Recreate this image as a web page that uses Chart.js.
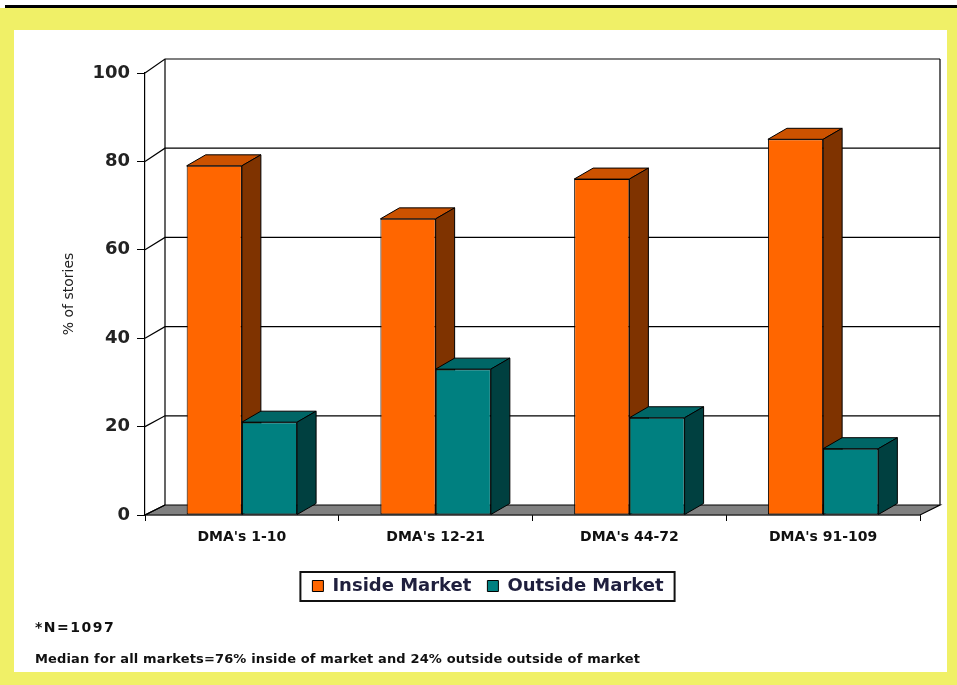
<!DOCTYPE html>
<html>
<head>
<meta charset="utf-8">
<title>Inside vs Outside Market Stories</title>
<script src="https://cdn.jsdelivr.net/npm/chart.js@4"></script>
<style>
  html, body { margin: 0; padding: 0; background: #fff; }
  body { width: 957px; height: 685px; position: relative; overflow: hidden; font-family: "DejaVu Sans", sans-serif; }
  .rule { position: absolute; left: 5px; right: 0; top: 5px; height: 3px; background: #000; }
  .frame { position: absolute; left: 0; top: 8px; width: 957px; height: 677px; background: #f0f067; }
  .panel { position: absolute; left: 14px; top: 30px; width: 933px; height: 642px; background: #fff; }
  .panel canvas { position: absolute; left: 0; top: 0; }
  .note { position: absolute; left: 21px; color: #111; font-weight: bold; white-space: nowrap; }
  .note.n { top: 589px; font-size: 14px; letter-spacing: 1.5px; }
  .note.median { top: 621px; font-size: 13px; letter-spacing: 0.15px; }
</style>
</head>
<body>
<div class="rule"></div>
<div class="frame"></div>
<div class="panel">
  <canvas id="chart" width="933" height="642"></canvas>
  <div class="note n">*N=1097</div>
  <div class="note median">Median for all markets=76% inside of market and 24% outside outside of market</div>
</div>
<script>
const categories = ["DMA's 1-10", "DMA's 12-21", "DMA's 44-72", "DMA's 91-109"];
const insideMarket = [79, 67, 76, 85];
const outsideMarket = [21, 33, 22, 15];
const yTicks = [0, 20, 40, 60, 80, 100];

// shading for the top and right faces of each series' columns
const faces = [
  { top: '#cc5200', side: '#7f3300' },
  { top: '#006666', side: '#004040' }
];

// depth of the columns and of the back wall
const BAR_DX = 19, BAR_DY = -11;
const WALL_DX = 20, WALL_DY = -10, WALL_SKEW = 0.009;

const axisFont = { family: 'DejaVu Sans', weight: 'bold' };

const box3d = {
  id: 'box3d',
  beforeDatasetsDraw(chart) {
    const { ctx, chartArea: a, scales: { y } } = chart;
    const backY = py => py + WALL_DY - (a.bottom - py) * WALL_SKEW;
    ctx.save();
    ctx.strokeStyle = '#000';
    ctx.lineWidth = 1.2;

    // floor
    ctx.beginPath();
    ctx.moveTo(a.left, a.bottom);
    ctx.lineTo(a.right, a.bottom);
    ctx.lineTo(a.right + WALL_DX, backY(a.bottom));
    ctx.lineTo(a.left + WALL_DX, backY(a.bottom));
    ctx.closePath();
    ctx.fillStyle = '#808080';
    ctx.fill();
    ctx.stroke();

    // back wall gridlines and the links from the front axis
    y.ticks.forEach(t => {
      const py = y.getPixelForValue(t.value);
      const by = backY(py);
      ctx.beginPath();
      ctx.moveTo(a.left, py);
      ctx.lineTo(a.left + WALL_DX, by);
      if (t.value > 0) ctx.lineTo(a.right + WALL_DX, by);
      ctx.stroke();
    });
    const top = backY(y.getPixelForValue(y.max));
    const bottom = backY(a.bottom);
    ctx.beginPath();
    ctx.moveTo(a.left + WALL_DX, bottom);
    ctx.lineTo(a.left + WALL_DX, top);
    ctx.moveTo(a.right + WALL_DX, bottom);
    ctx.lineTo(a.right + WALL_DX, top);
    ctx.stroke();

    // top and side faces of the columns
    ctx.lineWidth = 1;
    chart.data.datasets.forEach((ds, i) => {
      const meta = chart.getDatasetMeta(i);
      meta.data.forEach(bar => {
        const { x, y: by, width, base } = bar.getProps(['x', 'y', 'width', 'base'], true);
        const l = x - width / 2, r = x + width / 2;
        ctx.beginPath();
        ctx.moveTo(l, by);
        ctx.lineTo(r, by);
        ctx.lineTo(r + BAR_DX, by + BAR_DY);
        ctx.lineTo(l + BAR_DX, by + BAR_DY);
        ctx.closePath();
        ctx.fillStyle = faces[i].top;
        ctx.fill();
        ctx.stroke();
        ctx.beginPath();
        ctx.moveTo(r, by);
        ctx.lineTo(r + BAR_DX, by + BAR_DY);
        ctx.lineTo(r + BAR_DX, base + BAR_DY);
        ctx.lineTo(r, base);
        ctx.closePath();
        ctx.fillStyle = faces[i].side;
        ctx.fill();
        ctx.stroke();
      });
    });
    ctx.restore();
  },
  afterDraw(chart) {
    // frame around the legend
    const boxes = chart.legend.legendHitBoxes;
    if (!boxes.length) return;
    const l = Math.min(...boxes.map(b => b.left)) - 12;
    const r = Math.max(...boxes.map(b => b.left + b.width)) + 11;
    const t = Math.min(...boxes.map(b => b.top)) - 5;
    const b = Math.max(...boxes.map(b => b.top + b.height)) + 6;
    const ctx = chart.ctx;
    ctx.save();
    ctx.strokeStyle = '#111';
    ctx.lineWidth = 2;
    ctx.strokeRect(l, t, r - l, b - t);
    ctx.restore();
  }
};

new Chart(document.getElementById('chart'), {
  type: 'bar',
  data: {
    labels: categories,
    datasets: [
      {
        label: 'Inside Market',
        data: insideMarket,
        backgroundColor: '#ff6600',
        borderColor: '#000',
        borderWidth: 1,
        borderSkipped: false
      },
      {
        label: 'Outside Market',
        data: outsideMarket,
        backgroundColor: '#008080',
        borderColor: '#000',
        borderWidth: 1,
        borderSkipped: false
      }
    ]
  },
  options: {
    responsive: false,
    animation: false,
    categoryPercentage: 0.57,
    barPercentage: 1,
    layout: { padding: { left: 42, right: 27, top: 43, bottom: 67 } },
    scales: {
      x: {
        grid: { display: true, drawOnChartArea: false, tickLength: 6, color: '#000', offset: true },
        border: { display: true, color: '#000', width: 1.2 },
        ticks: { color: '#111', font: { ...axisFont, size: 14 }, padding: 8 },
        afterFit: s => { s.height = 46; }
      },
      y: {
        min: 0,
        max: 100,
        afterBuildTicks: s => { s.ticks = yTicks.map(v => ({ value: v })); },
        grid: { display: true, drawOnChartArea: false, tickLength: 8, color: '#000' },
        border: { display: true, color: '#000', width: 1.2 },
        ticks: { color: '#222', font: { ...axisFont, size: 18 }, padding: 7 },
        title: {
          display: true,
          text: '% of stories',
          color: '#222',
          font: { family: 'DejaVu Sans', size: 14 },
          padding: { top: 5, bottom: 0 }
        },
        afterFit: s => { s.width = 89; }
      }
    },
    plugins: {
      legend: {
        position: 'bottom',
        labels: {
          boxWidth: 11,
          boxHeight: 11,
          padding: 16,
          color: '#1f1f3d',
          font: { family: 'DejaVu Sans', size: 18, weight: 'bold' }
        }
      },
      tooltip: { enabled: false }
    }
  },
  plugins: [box3d]
});
</script>
</body>
</html>
